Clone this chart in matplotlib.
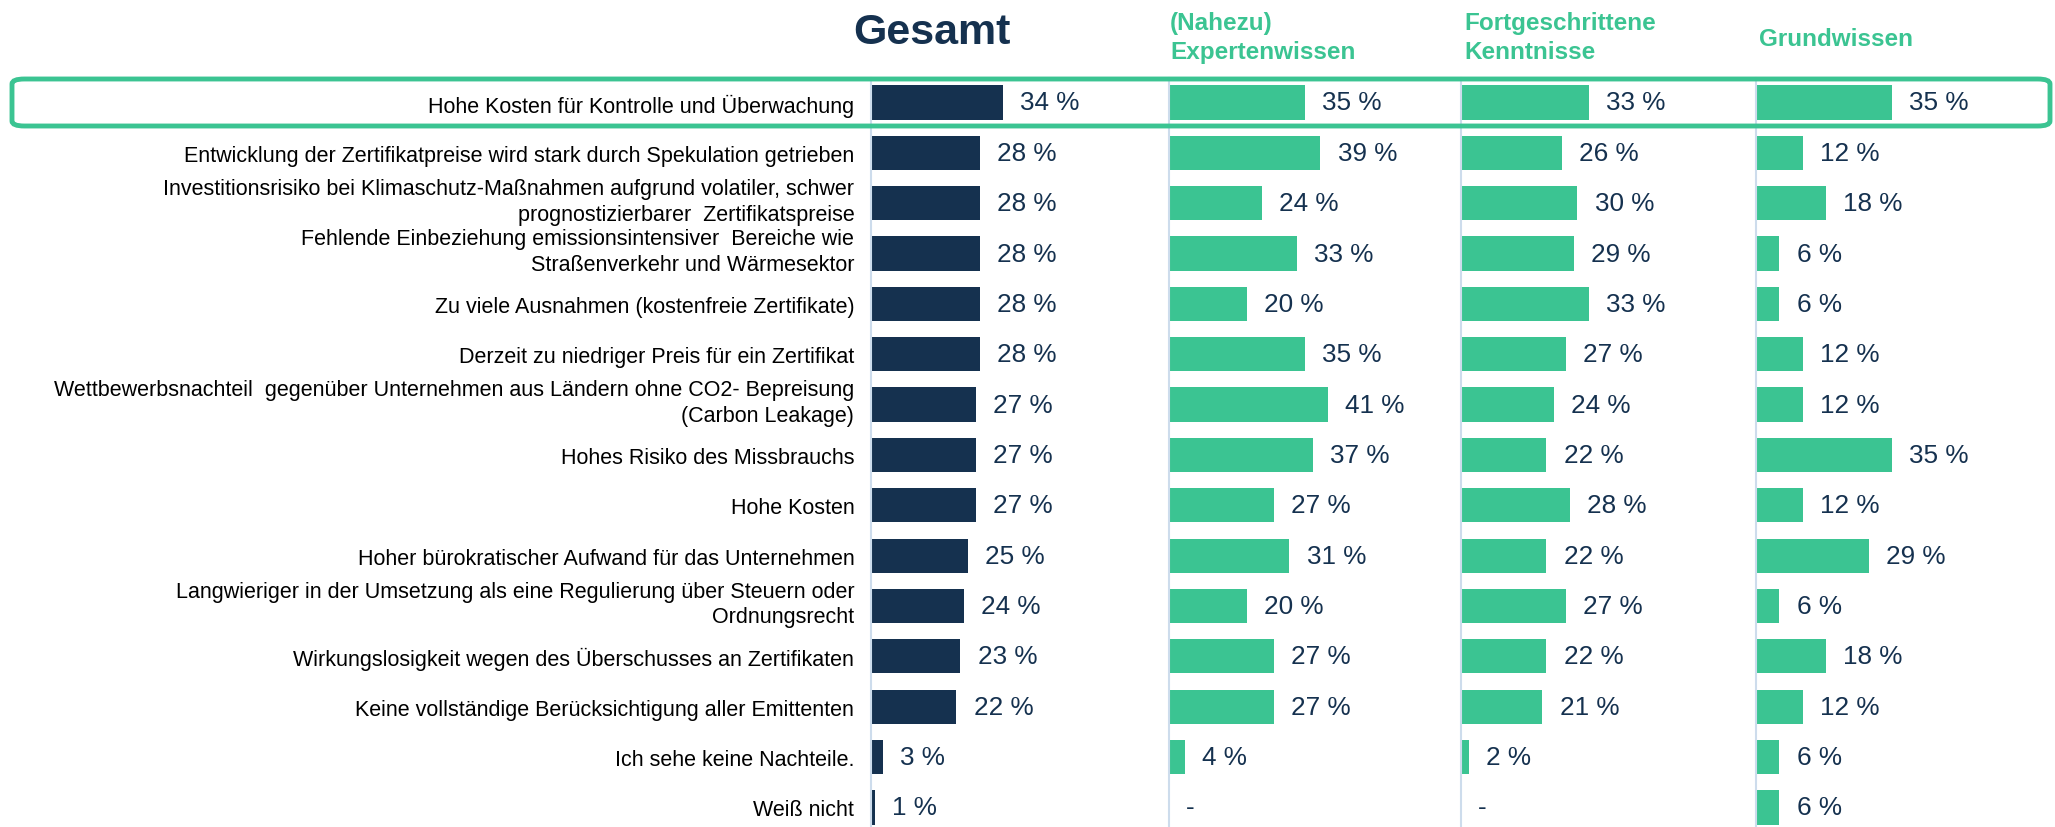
import numpy as np
import matplotlib
matplotlib.use("Agg")
import matplotlib.pyplot as plt
from matplotlib.patches import FancyBboxPatch

plt.rcParams['font.family'] = ['Liberation Sans', 'DejaVu Sans']

categories = [
    "Hohe Kosten für Kontrolle und Überwachung",
    "Entwicklung der Zertifikatpreise wird stark durch Spekulation getrieben",
    "Investitionsrisiko bei Klimaschutz-Maßnahmen aufgrund volatiler, schwer\nprognostizierbarer  Zertifikatspreise",
    "Fehlende Einbeziehung emissionsintensiver  Bereiche wie\nStraßenverkehr und Wärmesektor",
    "Zu viele Ausnahmen (kostenfreie Zertifikate)",
    "Derzeit zu niedriger Preis für ein Zertifikat",
    "Wettbewerbsnachteil  gegenüber Unternehmen aus Ländern ohne CO2- Bepreisung\n(Carbon Leakage)",
    "Hohes Risiko des Missbrauchs",
    "Hohe Kosten",
    "Hoher bürokratischer Aufwand für das Unternehmen",
    "Langwieriger in der Umsetzung als eine Regulierung über Steuern oder\nOrdnungsrecht",
    "Wirkungslosigkeit wegen des Überschusses an Zertifikaten",
    "Keine vollständige Berücksichtigung aller Emittenten",
    "Ich sehe keine Nachteile.",
    "Weiß nicht",
]

gesamt = [34, 28, 28, 28, 28, 28, 27, 27, 27, 25, 24, 23, 22, 3, 1]
experten = [35, 39, 24, 33, 20, 35, 41, 37, 27, 31, 20, 27, 27, 4, np.nan]
fortgeschritten = [33, 26, 30, 29, 33, 27, 24, 22, 28, 22, 27, 22, 21, 2, np.nan]
grundwissen = [35, 12, 18, 6, 6, 12, 12, 35, 12, 29, 6, 18, 12, 6, 6]

panel_titles = ["Gesamt", "(Nahezu)\nExpertenwissen", "Fortgeschrittene\nKenntnisse", "Grundwissen"]

NAVY = "#15314f"
GREEN = "#3bc492"
AXIS = "#cddcec"

W, H = 2055, 828
fig = plt.figure(figsize=(W / 100, H / 100), dpi=100)

px_per_pct = 3.88
row0, row_step = 103.5, 50.35
ax_top, ax_bot = 79, 828
lefts = [871, 1169, 1461, 1756]
widths = [298, 292, 295, 299]
series = [gesamt, experten, fortgeschritten, grundwissen]
colors = [NAVY, GREEN, GREEN, GREEN]

n = len(categories)
y = np.arange(n)

for i, (vals, col) in enumerate(zip(series, colors)):
    ax = fig.add_axes([lefts[i] / W, 1 - ax_bot / H, widths[i] / W, (ax_bot - ax_top) / H])
    ax.set_xlim(0, widths[i] / px_per_pct)
    ax.set_ylim((ax_bot - row0) / row_step, (ax_top - row0) / row_step)
    v = np.array(vals, dtype=float)
    ax.barh(y, np.nan_to_num(v), height=0.68, color=col)
    for yi, val in zip(y, v):
        if np.isnan(val):
            ax.annotate("-", (0, yi), xytext=(12, 0), textcoords="offset points",
                        va="center", ha="left", fontsize=18.8, color=NAVY)
        else:
            ax.annotate(f"{int(val)} %", (val, yi), xytext=(12.5, 0), textcoords="offset points",
                        va="center", ha="left", fontsize=18.8, color=NAVY)
    for s in ["top", "right", "bottom"]:
        ax.spines[s].set_visible(False)
    ax.spines["left"].set_color(AXIS)
    ax.spines["left"].set_linewidth(1.5)
    ax.set_xticks([])
    ax.set_yticks([])
    if i == 0:
        for yi, lab in zip(y, categories):
            multi = "\n" in lab
            ax.annotate(lab, (0, yi), xycoords=("axes fraction", "data"),
                        xytext=(-12, 1.5 if multi else 0), textcoords="offset points",
                        ha="right", va="center" if multi else "center_baseline",
                        fontsize=15.5, color="black", linespacing=1.3,
                        multialignment="right", annotation_clip=False)
    ax.patch.set_alpha(0)

# headers
fig.text(932 / W, 1 - 33 / H, panel_titles[0], ha="center", va="center",
         fontsize=31, fontweight="bold", color=NAVY)
fig.text(1170 / W, 1 - 38 / H, panel_titles[1], ha="left", va="center",
         fontsize=17.5, fontweight="bold", color=GREEN, linespacing=1.3)
fig.text(1464 / W, 1 - 38 / H, panel_titles[2], ha="left", va="center",
         fontsize=17.5, fontweight="bold", color=GREEN, linespacing=1.3)
fig.text(1759 / W, 1 - 40 / H, panel_titles[3], ha="left", va="center",
         fontsize=17.5, fontweight="bold", color=GREEN)

# highlight box around first row
box = FancyBboxPatch((12 / W, 1 - 127 / H), (2050 - 12) / W, (127 - 80) / H,
                     boxstyle="round,pad=0,rounding_size=0.006",
                     transform=fig.transFigure, fill=False, edgecolor=GREEN,
                     linewidth=3.5, zorder=10, clip_on=False)
fig.add_artist(box)

fig.savefig("out.png", dpi=100)
